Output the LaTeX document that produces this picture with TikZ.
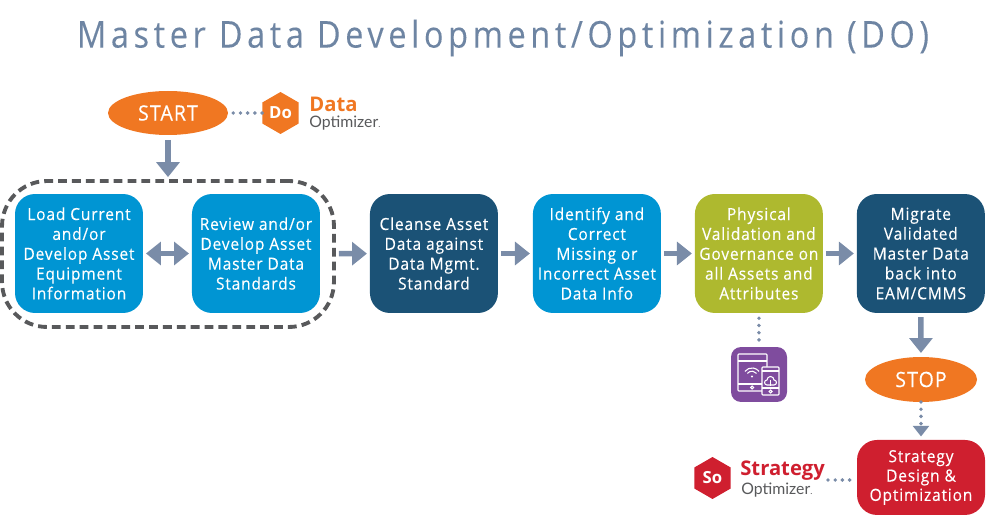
\documentclass[tikz,border=0pt]{standalone}
\usepackage{fontspec}
\usetikzlibrary{arrows.meta,positioning,shapes.geometric}
\newfontfamily\boxfont[LetterSpace=5,FakeStretch=0.93,FakeBold=0.25]{Open Sans}
\newfontfamily\titlefont[LetterSpace=12.5,FakeStretch=0.88,FakeBold=0.1]{Open Sans}
\newfontfamily\logofont{Open Sans}
\newfontfamily\thinfont{Lato}
\definecolor{doorange}{HTML}{F07722}
\definecolor{doblue}{HTML}{0095D3}
\definecolor{dodark}{HTML}{1B5276}
\definecolor{dogreen}{HTML}{AEB92F}
\definecolor{dopurple}{HTML}{7F4C9E}
\definecolor{dored}{HTML}{CF1F2F}
\definecolor{doarrow}{HTML}{7A8CA8}
\definecolor{dogrey}{HTML}{58595B}
\definecolor{dotitle}{HTML}{6E85A3}
\tikzset{
  stepbox/.style={rectangle,rounded corners=0.4cm,minimum width=2.56cm,minimum height=2.38cm,
    inner sep=0pt,outer sep=0pt,text=white,align=center,font=\boxfont\fontsize{9.5}{11.3}\selectfont},
  endcap/.style={ellipse,fill=doorange,inner sep=0pt,outer sep=0pt,text=white,
    font=\boxfont\fontsize{12}{13}\selectfont},
  hexlogo/.style={regular polygon,regular polygon sides=6,shape border rotate=30,minimum size=0.84cm,
    inner sep=0pt,outer sep=0pt,text=white,font=\logofont\bfseries\fontsize{9.5}{10}\selectfont},
  flow/.style={doarrow,line width=3.1pt,-{Triangle[width=13pt,length=8.5pt]},shorten >=1.7pt,shorten <=1.7pt},
  dots/.style={doarrow,line width=2.2pt,line cap=round,dash pattern=on 0pt off 4.1pt},
  wire/.style={white,line width=0.6pt}
}
\begin{document}
\begin{tikzpicture}[x=0.02cm,y=-0.02cm]
  \useasboundingbox (0,0) rectangle (1000,516);
  \node[text=dotitle,font=\titlefont\fontsize{21}{24}\selectfont] (title) at (503,38) {Master Data Development/Optimization (DO)};
  % the row of steps
  \node[stepbox,fill=doblue] (load) at (79,253.5) {Load Current\\and/or\\Develop Asset\\Equipment\\Information};
  \node[stepbox,fill=doblue,right=0.98cm of load] (review) {Review and/or\\Develop Asset\\Master Data\\Standards};
  \node[stepbox,fill=dodark,right=1cm of review] (cleanse) {Cleanse Asset\\Data against\\Data Mgmt.\\Standard};
  \node[stepbox,fill=doblue,right=0.7cm of cleanse] (identify) {Identify and\\Correct\\Missing or\\Incorrect Asset\\Data Info};
  \node[stepbox,fill=dogreen,right=0.68cm of identify] (physical) {Physical\\Validation and\\Governance on\\all Assets and\\Attributes};
  \node[stepbox,fill=dodark,right=0.68cm of physical] (migrate) {Migrate\\Validated\\Master Data\\back into\\EAM/CMMS};
  \node[draw=dogrey,line width=2.2pt,dash pattern=on 5pt off 2.9pt,rounded corners=0.9cm,outer sep=0pt,
    minimum width=6.64cm,minimum height=2.92cm] (group) at (168,254) {};
  % start and stop
  \node[endcap,minimum width=2.4cm,minimum height=0.88cm] (start) at (168,113) {START};
  \node[endcap,minimum width=2.24cm,minimum height=0.9cm] (stop) at (921,379.5) {STOP};
  \node[stepbox,fill=dored,minimum height=1.5cm,below=0.76cm of stop,font=\boxfont\fontsize{9.5}{11}\selectfont] (strategy) {Strategy\\Design \&\\Optimization};
  % logos
  \node[hexlogo,fill=doorange] (dohex) at (280.5,113) {Do};
  \node[anchor=west,inner sep=0pt,text=doorange,font=\logofont\bfseries\fontsize{11.5}{12}\selectfont] (dataword) at (309,104.5) {Data};
  \node[anchor=west,inner sep=0pt,text=dogrey,font=\thinfont\fontsize{9}{12}\selectfont] (optword) at (309,123) {Optimizer\tiny.};
  \node[hexlogo,fill=dored] (sohex) at (712.5,478) {So};
  \node[anchor=west,inner sep=0pt,text=dored,font=\logofont\bfseries\fontsize{11.5}{12}\selectfont] (stratword) at (740,470.5) {Strategy};
  \node[anchor=west,inner sep=0pt,text=dogrey,font=\thinfont\fontsize{9}{12}\selectfont] (optwordb) at (741,490) {Optimizer\tiny.};
  \coordinate (sologo) at (828,480);
  % devices
  \node[fill=dopurple,rounded corners=0.2cm,minimum width=1.12cm,minimum height=1.1cm,inner sep=0pt,outer sep=0pt] (device) at (759,374.5) {};
  \draw[wire,rounded corners=0.5pt] (738,354) rectangle (767,391);
  \draw[wire] (738,361) -- (767,361) (738,384) -- (767,384);
  \draw[wire] (752,387.5) circle (1.5);
  \draw[wire] (744.9,371.4) arc (218:322:9) (747.4,373.4) arc (218:322:5.8);
  \fill[white] (752,376.5) circle (1.2);
  \draw[wire,fill=dopurple,rounded corners=0.5pt] (762,367) rectangle (779,395);
  \draw[wire] (762,371) -- (779,371) (762,388) -- (779,388);
  \draw[wire] (770.5,391.5) circle (1.5);
  \draw[wire] (767,385) arc (90:270:2.5) arc (180:360:3.5) arc (270:450:2.5) -- cycle;
  \draw[wire] (770.5,380) -- (770.5,386);
  % connectors
  \draw[flow,shorten <=2.8pt,shorten >=2.2pt] (start) -- (group);
  \draw[flow,{Triangle[width=13pt,length=8.5pt]}-{Triangle[width=13pt,length=8.5pt]}] (load) -- (review);
  \draw[flow,shorten <=2.8pt] (group) -- (cleanse);
  \draw[flow] (cleanse) -- (identify);
  \draw[flow] (identify) -- (physical);
  \draw[flow] (physical) -- (migrate);
  \draw[flow,shorten <=2.3pt,shorten >=2.3pt] (migrate) -- (stop);
  \draw[dots,shorten <=3pt] (start) -- (dohex);
  \draw[dots,shorten <=3pt,shorten >=2pt] (physical) -- (device);
  \draw[dots,shorten >=1pt] (sologo) -- (strategy.west |- sologo);
  \draw[dots,-{Triangle[width=9pt,length=6pt]},shorten >=2pt] (stop) -- (strategy);
\end{tikzpicture}
\end{document}
